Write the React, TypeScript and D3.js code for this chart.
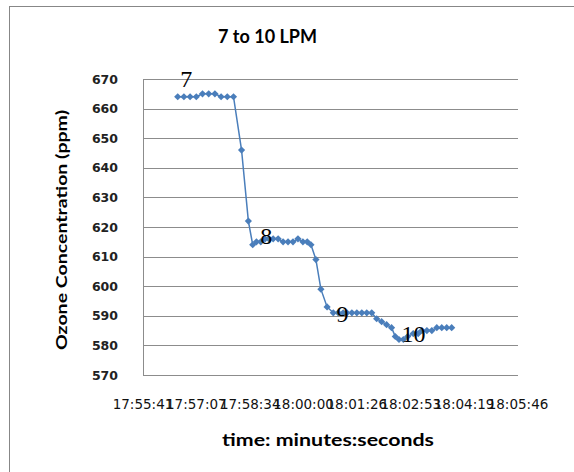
import React from "react";
import * as d3 from "d3";

const times: string[] = [
  "17:56:37", "17:56:47", "17:56:57", "17:57:07", "17:57:17", "17:57:27", "17:57:37", "17:57:47", "17:57:57", "17:58:07",
  "17:58:20", "17:58:31", "17:58:38", "17:58:44", "17:58:51", "17:58:58", "17:59:04", "17:59:11", "17:59:19", "17:59:27",
  "17:59:35", "17:59:43", "17:59:51", "17:59:59", "18:00:06", "18:00:12", "18:00:20", "18:00:28", "18:00:38", "18:00:48",
  "18:00:56", "18:01:04", "18:01:10", "18:01:18", "18:01:26", "18:01:34", "18:01:42", "18:01:50", "18:01:58", "18:02:06",
  "18:02:14", "18:02:22", "18:02:28", "18:02:34", "18:02:41", "18:02:48", "18:02:57", "18:03:05", "18:03:11", "18:03:19",
  "18:03:27", "18:03:35", "18:03:43", "18:03:51", "18:03:59",
];
const ozone: number[] = [
  664, 664, 664, 664, 665, 665, 665, 664, 664, 664,
  646, 622, 614, 615, 615, 616, 616, 616, 616, 615,
  615, 615, 616, 615, 615, 614, 609, 599, 593, 591,
  591, 591, 591, 591, 591, 591, 591, 591, 589, 588,
  587, 586, 583, 582, 582, 583, 584, 584, 585, 585,
  585, 586, 586, 586, 586,
];
const xTickLabels: string[] = ["17:55:41", "17:57:07", "17:58:34", "18:00:00", "18:01:26", "18:02:53", "18:04:19", "18:05:46"];
const yTicks: number[] = [570, 580, 590, 600, 610, 620, 630, 640, 650, 660, 670];
const annLabels: string[] = ["7", "8", "9", "10"];
const annTimes: string[] = ["17:56:41", "17:58:50", "18:00:53", "18:02:38"];
const annValues: number[] = [667.3, 614.3, 587.9, 581.1];

const toSec = (s: string) => {
  const [h, m, sec] = s.split(":").map(Number);
  return h * 3600 + m * 60 + sec;
};

const W = 574, H = 472;
const plot = { left: 143, right: 518, top: 79, bottom: 375 };

export default function App() {
  const tickSecs = xTickLabels.map(toSec);
  const x = d3.scaleLinear().domain([tickSecs[0], tickSecs[tickSecs.length - 1]]).range([plot.left, plot.right]);
  const y = d3.scaleLinear().domain([570, 670]).range([plot.bottom, plot.top]);
  const data = times.map((t, i) => ({ t: toSec(t), v: ozone[i] }));
  const line = d3.line<{ t: number; v: number }>().x(d => x(d.t)).y(d => y(d.v));
  const color = "#4A7EBB";
  const diamond = "M0,-3.6L3.6,0L0,3.6L-3.6,0Z";
  return (
    <svg width={W} height={H} style={{ position: "absolute", left: 0, top: 0, background: "#fff" }}>
      <rect x={9.5} y={6.5} width={700} height={700} fill="#fff" stroke="#878787" strokeWidth={1} />
      {yTicks.map(t => (
        <line key={"g" + t} x1={plot.left} x2={plot.right} y1={Math.round(y(t)) + 0.5} y2={Math.round(y(t)) + 0.5} stroke="#8c8c8c" strokeWidth={1} />
      ))}
      <line x1={plot.left + 0.5} x2={plot.left + 0.5} y1={plot.top} y2={plot.bottom + 0.5} stroke="#8c8c8c" strokeWidth={1} />
      {yTicks.map(t => (
        <text key={"yl" + t} x={118} y={y(t)} dy="0.36em" textAnchor="end" fontFamily="DejaVu Sans" fontWeight="bold" fontSize={12.5} fill="#222">{t}</text>
      ))}
      {xTickLabels.map((l, i) => (
        <text key={"xl" + l} x={x(tickSecs[i])} y={409} textAnchor="middle" fontFamily="DejaVu Sans" fontSize={13.5} fill="#111">{l}</text>
      ))}
      <path d={line(data) || ""} fill="none" stroke={color} strokeWidth={1.5} />
      {data.map((d, i) => (
        <path key={"m" + i} d={diamond} transform={`translate(${x(d.t)},${y(d.v)})`} fill={color} />
      ))}
      {annLabels.map((l, i) => (
        <text key={"a" + l} x={x(toSec(annTimes[i]))} y={y(annValues[i])} fontFamily="Liberation Serif" fontSize={24} fill="#000">{l}</text>
      ))}
      <text x={267.5} y={43} textAnchor="middle" fontFamily="Lato" fontWeight="bold" fontSize={19} textLength={99} lengthAdjust="spacingAndGlyphs" fill="#000">7 to 10 LPM</text>
      <text x={328} y={446} textAnchor="middle" fontFamily="Lato" fontWeight="bold" fontSize={16.5} textLength={212} lengthAdjust="spacingAndGlyphs" fill="#000">time: minutes:seconds</text>
      <text transform={`translate(67,230) rotate(-90)`} textAnchor="middle" fontFamily="Lato" fontWeight="bold" fontSize={15.5} textLength={240} lengthAdjust="spacingAndGlyphs" fill="#000">Ozone Concentration (ppm)</text>
    </svg>
  );
}
